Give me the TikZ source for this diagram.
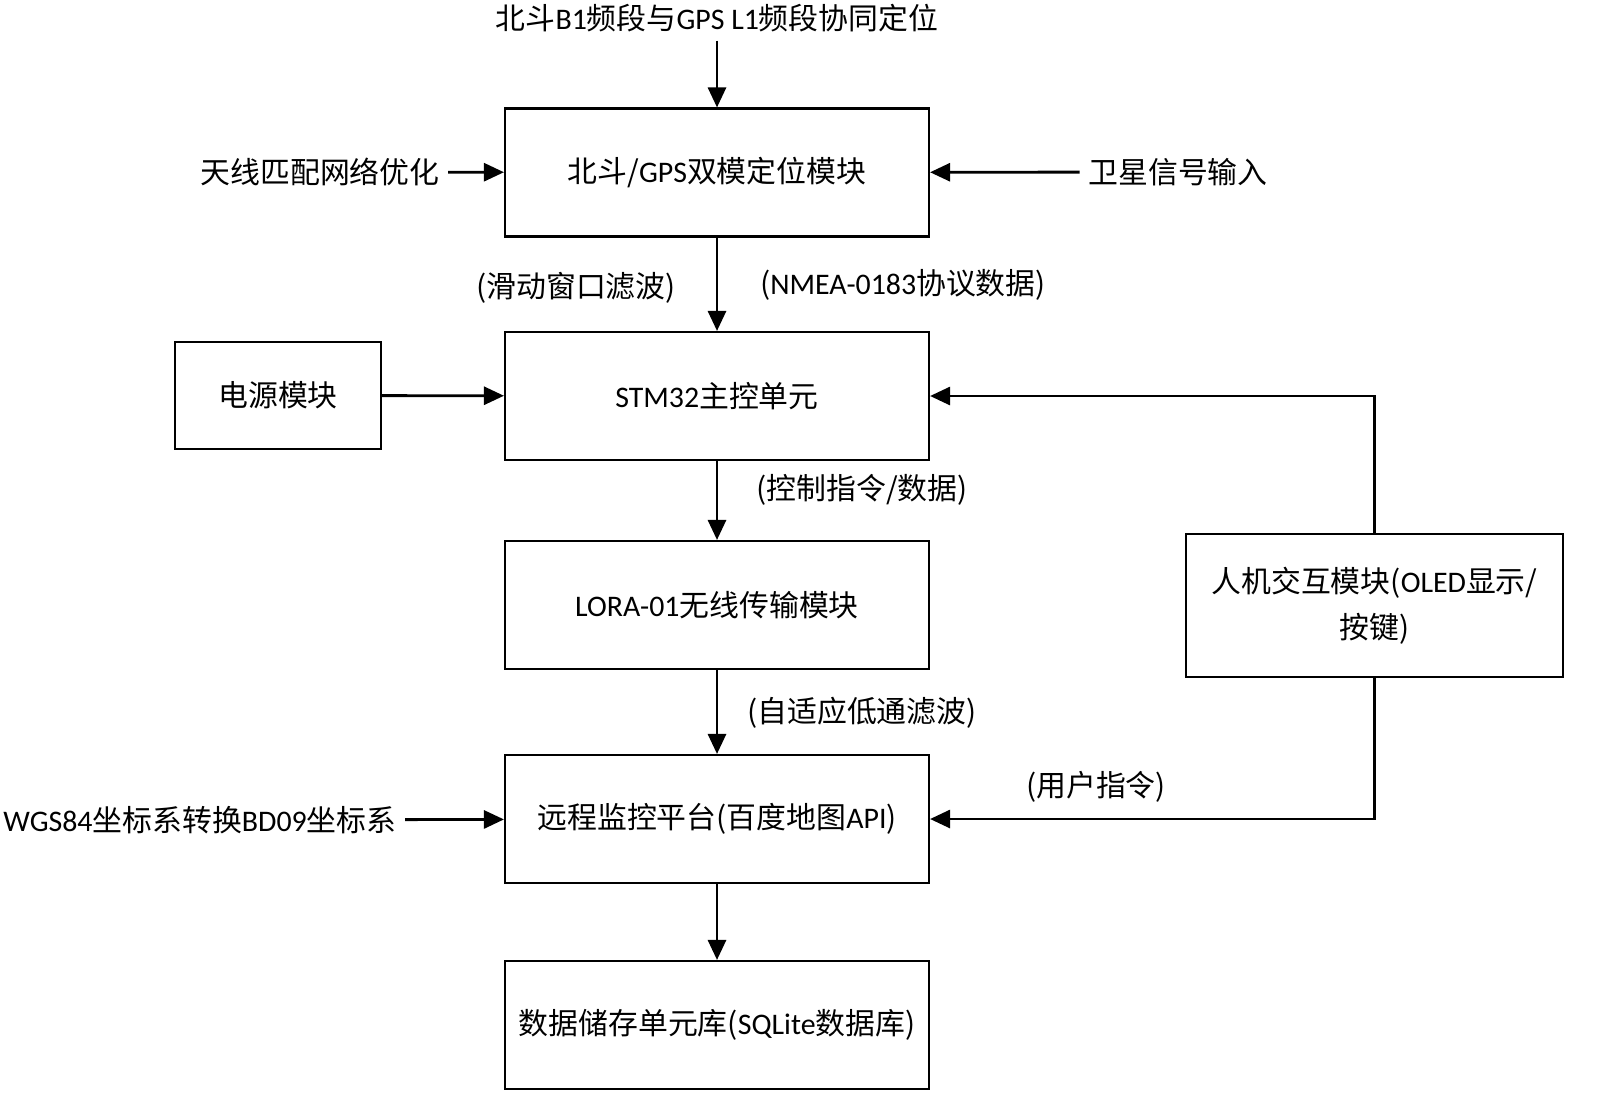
\documentclass[tikz,border=0pt]{standalone}
\usepackage{fontspec}
\setmainfont{Noto Sans CJK SC}
\newfontfamily\lat{Carlito}
\usepackage{tikz}
\usetikzlibrary{arrows.meta}
\usetikzlibrary{positioning}

\tikzset{
    box/.style={rectangle, draw, semithick, minimum width=4.24cm, minimum height=1.28cm, inner sep=2pt, align=center},
    lbl/.style={inner sep=0.08cm},
    arr/.style={thick, -{Triangle[length=0.2cm, width=0.18cm]}},
}

\begin{document}
\begin{tikzpicture}[every node/.style={font=\fontsize{8.5pt}{13pt}\selectfont}]
    \useasboundingbox (0,0) rectangle (16,-11.17);

    % main column
    \node[box] (gps) at (7.17,-1.725) {北斗/{\lat GPS}双模定位模块};
    \node[box] (stm) at (7.17,-3.96) {{\lat STM32}主控单元};
    \node[box] (lora) at (7.17,-6.05) {{\lat LORA-01}无线传输模块};
    \node[box] (remote) at (7.17,-8.19) {远程监控平台(百度地图{\lat API})};
    \node[box] (db) at (7.17,-10.25) {数据储存单元库({\lat SQLite}数据库)};

    \node[box, minimum width=2.06cm, minimum height=1.07cm] (power) at (2.78,-3.955) {电源模块};
    \node[box, minimum width=3.77cm, minimum height=1.43cm] (hmi) at (13.745,-6.055) {人机交互模块({\lat OLED}显示/\\按键)};

    % inputs
    \node[lbl] (band) at (7.17,-0.18) {北斗{\lat B1}频段与{\lat GPS L1}频段协同定位};
    \node[lbl] (ant) at (3.20,-1.72) {天线匹配网络优化};
    \node[lbl] (sat) at (11.78,-1.72) {卫星信号输入};
    \node[lbl] (wgs) at (2.0,-8.20) {{\lat WGS84}坐标系转换{\lat BD09}坐标系};

    \draw[arr] (band) to (gps);
    \draw[arr] (ant) to (gps);
    \draw[arr] (sat) to (gps);
    \draw[arr] (wgs) to (remote);

    \draw[arr] (gps) to (stm);
    \draw[arr] (power) to (stm);
    \draw[arr] (stm) to (lora);
    \draw[arr] (lora) to (remote);
    \draw[arr] (remote) to (db);

    \draw[arr] (hmi.north) |- (stm.east);
    \draw[arr] (hmi.south) |- (remote.east);

    % edge labels
    \node (filt1) at (5.76,-2.88) {(滑动窗口滤波)};
    \node (nmea) at (9.03,-2.85) {({\lat NMEA-0183}协议数据)};
    \node (ctrl) at (8.62,-4.90) {(控制指令/数据)};
    \node (filt2) at (8.62,-7.13) {(自适应低通滤波)};
    \node (user) at (10.96,-7.87) {(用户指令)};

\end{tikzpicture}
\end{document}
